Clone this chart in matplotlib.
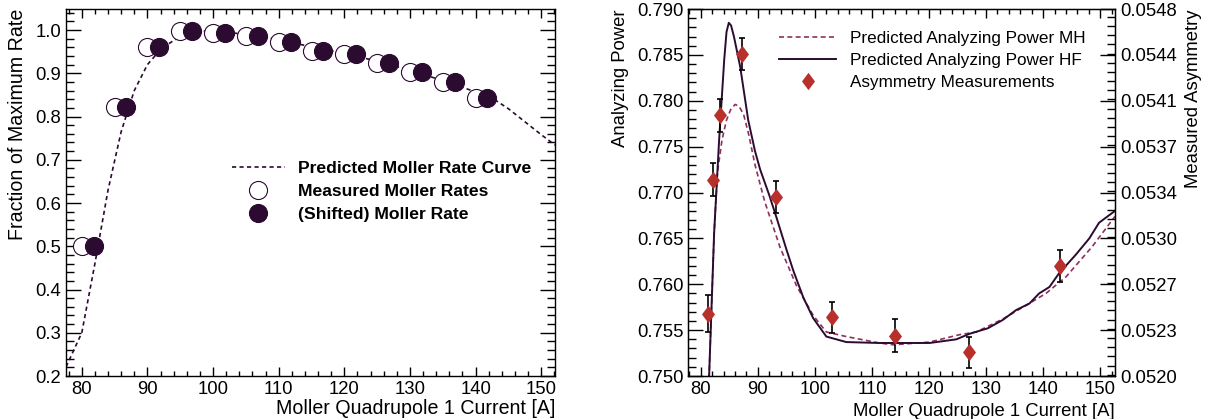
import numpy as np
import matplotlib
matplotlib.use("Agg")
import matplotlib.pyplot as plt
from matplotlib.ticker import MultipleLocator, FormatStrFormatter

plt.rcParams['font.family'] = ['Liberation Sans', 'DejaVu Sans']

# left panel: moller rate scan
measuredCurrent = [80, 85, 90, 95, 100, 105, 110, 115, 120, 125, 130, 135, 140]
shiftedCurrent = [81.8, 86.8, 91.8, 96.8, 101.8, 106.8, 111.8, 116.8, 121.8, 126.8, 131.8, 136.8, 141.8]
measuredRate = [0.500, 0.823, 0.961, 0.998, 0.994, 0.987, 0.973, 0.952, 0.944, 0.924, 0.904, 0.879, 0.843]
shiftedRate = [0.500, 0.823, 0.961, 0.998, 0.992, 0.987, 0.973, 0.952, 0.944, 0.924, 0.904, 0.879, 0.843]

predictedCurrent = [77.6, 80, 82, 84, 86, 88, 90, 92, 94, 96, 98, 100, 105, 110, 115, 120,
                    125, 130, 135, 140, 142.5, 145, 150, 152.1]
predictedRate = [0.221, 0.30, 0.46, 0.63, 0.765, 0.86, 0.92, 0.955, 0.976, 0.99, 0.997, 0.998,
                 0.99, 0.978, 0.961, 0.946, 0.928, 0.907, 0.883, 0.857, 0.843, 0.818, 0.758, 0.734]

# right panel: analyzing power
hfCurrent = [81.2, 81.45, 82.33, 83.2, 84.1, 84.5, 84.9, 85.3, 85.8, 86.9, 88.3, 89.5, 90.4,
             92.0, 93.3, 95.0, 96.2, 98.0, 99.7, 102.0, 105.5, 111.3, 117.2, 120.1, 124.8,
             127.1, 130.3, 132.9, 135.3, 137.6, 139.3, 141.1, 142.8, 145.7, 148.1, 149.8, 152.6]
hfPower = [0.7470, 0.7500, 0.7656, 0.7757, 0.7845, 0.7875, 0.7885, 0.7882, 0.7870, 0.7837,
           0.7779, 0.7745, 0.7725, 0.7697, 0.7672, 0.7638, 0.7615, 0.7585, 0.7563, 0.7543,
           0.7537, 0.7536, 0.7536, 0.7536, 0.7540, 0.7546, 0.7552, 0.7561, 0.7572, 0.7579,
           0.7590, 0.7597, 0.7612, 0.7632, 0.7650, 0.7667, 0.7680]
mhCurrent = [81.2, 81.45, 82.33, 82.9, 83.7, 84.5, 85.2, 86.0, 86.7, 87.5, 88.4, 89.5, 91.2,
             93.9, 96.8, 99.7, 102.0, 105.5, 111.3, 113.7, 120.1, 125.3, 128.3, 132.9, 137.0,
             140.5, 144.0, 148.6, 152.6]
mhPower = [0.7470, 0.7500, 0.7656, 0.7721, 0.7757, 0.7779, 0.7790, 0.7796, 0.7794, 0.7785,
           0.7763, 0.7730, 0.7690, 0.7640, 0.7598, 0.7566, 0.7548, 0.7543, 0.7536, 0.7534,
           0.7537, 0.7545, 0.7548, 0.7562, 0.7577, 0.7590, 0.7608, 0.7641, 0.7674]

asymCurrent = [81.2, 82.2, 83.3, 87.2, 93.1, 103.0, 114.0, 127.0, 143.0]
asymValue = [0.7568, 0.7714, 0.7784, 0.7851, 0.7695, 0.7564, 0.7544, 0.7526, 0.7620]
asymError = [0.0020, 0.0018, 0.0018, 0.0017, 0.0017, 0.0017, 0.0018, 0.0017, 0.0017]

asymTickLabels = ["0.0520", "0.0523", "0.0527", "0.0530", "0.0534", "0.0537", "0.0541", "0.0544", "0.0548"]

darkPurple = "#2b0b30"
mhColor = "#8e2f5e"
diamondColor = "#b8302c"
fs = 13.3
leftLabelSize = 14.1

diamond = [(0, 1), (0.75, 0), (0, -1), (-0.75, 0), (0, 1)]


def rootStyle(ax, xMinor, yMinor, yMajor):
	ax.xaxis.set_major_locator(MultipleLocator(10))
	ax.xaxis.set_minor_locator(MultipleLocator(xMinor))
	ax.yaxis.set_major_locator(MultipleLocator(yMajor))
	ax.yaxis.set_minor_locator(MultipleLocator(yMinor))
	ax.tick_params(which='both', direction='in', top=True, labelsize=fs, width=1.0)
	ax.tick_params(axis='x', which='major', length=6.5)
	ax.tick_params(axis='x', which='minor', length=3.3)
	ax.tick_params(axis='y', which='major', length=11)
	ax.tick_params(axis='y', which='minor', length=5.5)
	for s in ax.spines.values():
		s.set_linewidth(1.0)


fig = plt.figure(figsize=(12.05, 4.19), dpi=100)

#left panel
ax1 = fig.add_axes([0.0548, 0.1026, 0.4058, 0.8759])
ax1.plot(predictedCurrent, predictedRate, color=darkPurple, linewidth=1.2, dashes=(2.5, 2),
         label="Predicted Moller Rate Curve")
ax1.plot(measuredCurrent, measuredRate, 'o', markersize=13, markerfacecolor='white',
         markeredgecolor=darkPurple, markeredgewidth=0.8, label="Measured Moller Rates")
ax1.plot(shiftedCurrent, shiftedRate, 'o', markersize=13, markerfacecolor=darkPurple,
         markeredgecolor=darkPurple, markeredgewidth=0.8, label="(Shifted) Moller Rate")
ax1.set_xlim(77.6, 152.1)
ax1.set_ylim(0.2, 1.0486)
rootStyle(ax1, 2, 0.02, 0.1)
ax1.tick_params(which='both', right=True)
ax1.yaxis.set_major_formatter(FormatStrFormatter('%.1f'))
ax1.set_xlabel("Moller Quadrupole 1 Current [A]", fontsize=leftLabelSize, loc='right', labelpad=0.5)
ax1.set_ylabel("Fraction of Maximum Rate", fontsize=leftLabelSize, loc='top')
ax1.yaxis.set_label_coords(-0.08, 1.0)
ax1.legend(loc='upper left', bbox_to_anchor=(0.3395, 0.586), frameon=False, borderpad=0,
           borderaxespad=0, handlelength=3.0, handletextpad=0.75, labelspacing=0.45,
           prop={'size': 12.6, 'weight': 'bold'})

#right panel
ax2 = fig.add_axes([0.5712, 0.1026, 0.3541, 0.8759])
ax2.plot(mhCurrent, mhPower, color=mhColor, linewidth=1.2, dashes=(3, 2),
         label="Predicted Analyzing Power MH")
ax2.plot(hfCurrent, hfPower, color=darkPurple, linewidth=1.4,
         label="Predicted Analyzing Power HF")
ax2.errorbar(asymCurrent, asymValue, yerr=asymError, fmt='none', ecolor='black',
             elinewidth=1.2, capsize=2.2, capthick=1.2)
ax2.plot(asymCurrent, asymValue, linestyle='none', marker=diamond, markersize=12.5,
         color=diamondColor, markeredgewidth=0, label="Asymmetry Measurements")
ax2.set_xlim(77.8, 152.6)
ax2.set_ylim(0.750, 0.790)
rootStyle(ax2, 2, 0.001, 0.005)
ax2.yaxis.set_major_formatter(FormatStrFormatter('%.3f'))
ax2.set_xlabel("Moller Quadrupole 1 Current [A]", fontsize=fs, loc='right')
ax2.set_ylabel("Analyzing Power", fontsize=fs, loc='top')
ax2.yaxis.set_label_coords(-0.138, 1.0)
ax2.legend(loc='upper left', bbox_to_anchor=(0.2126, 0.94), frameon=False, borderpad=0,
           borderaxespad=0, handlelength=3.35, handletextpad=0.8, labelspacing=0.4,
           prop={'size': 12.3})

#right axis in asymmetry units
ax3 = ax2.twinx()
ax3.set_ylim(0.0520, 0.0548)
ax3.set_yticks(np.linspace(0.0520, 0.0548, len(asymTickLabels)))
ax3.set_yticklabels(asymTickLabels)
ax3.yaxis.set_minor_locator(MultipleLocator(0.0028 / 40))
ax3.tick_params(which='both', direction='in', labelsize=fs, width=1.0)
ax3.tick_params(which='major', length=11)
ax3.tick_params(which='minor', length=5.5)
ax3.set_ylabel("Measured Asymmetry", fontsize=fs, loc='top', rotation=90)
ax3.yaxis.set_label_coords(1.163, 1.0)
ax3.yaxis.label.set_va('top')

plt.savefig("out.png", dpi=100)
